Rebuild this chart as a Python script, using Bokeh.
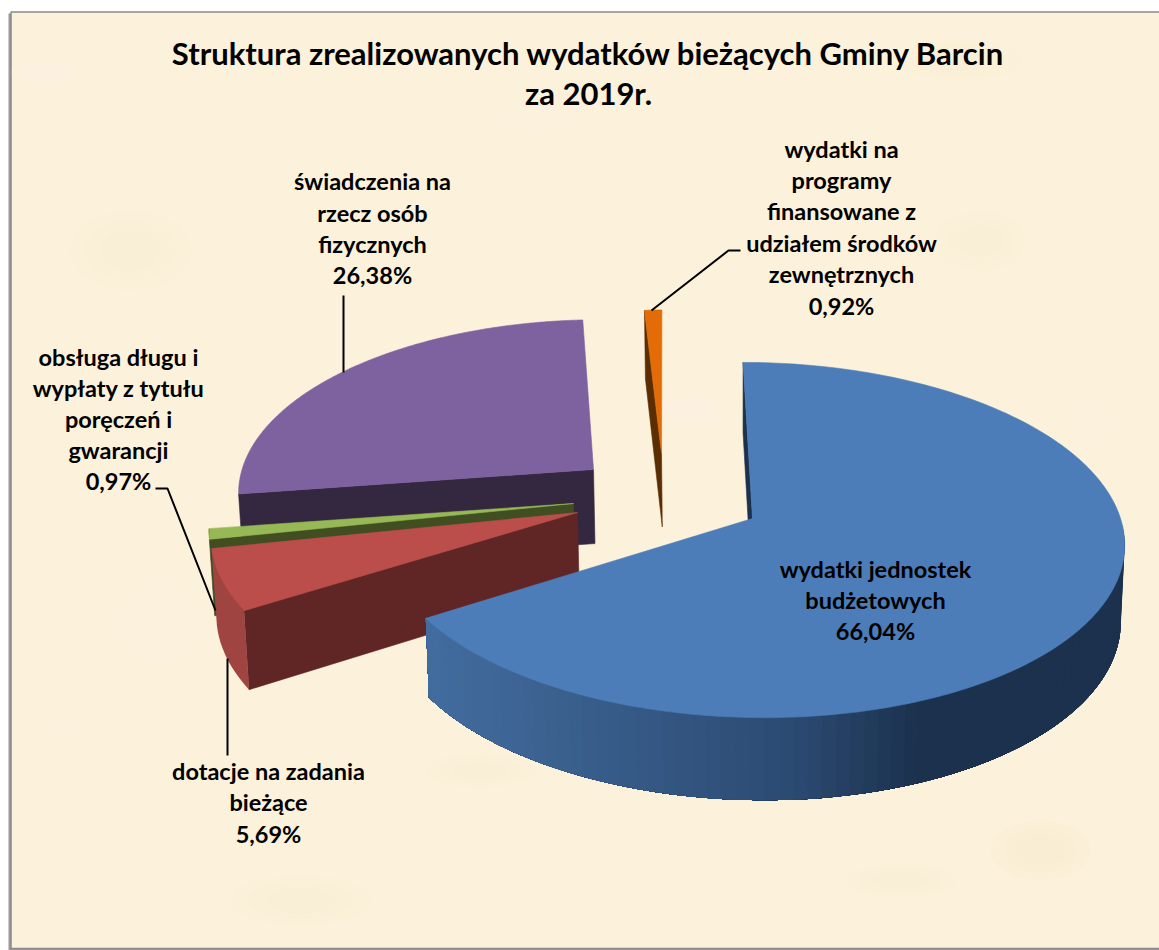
import numpy as np
from bokeh.plotting import figure
from bokeh.models import Range1d
from bokeh.core.properties import value
from bokeh.embed import file_html
from bokeh.resources import INLINE

# ---- data ----
title_lines = ["Struktura zrealizowanych wydatków bieżących Gminy Barcin", "za 2019r."]
categories = ["wydatki jednostek budżetowych", "dotacje na zadania bieżące",
              "obsługa długu i wypłaty z tytułu poręczeń i gwarancji",
              "świadczenia na rzecz osób fizycznych",
              "wydatki na programy finansowane z udziałem środków zewnętrznych"]
shares = [66.04, 5.69, 0.97, 26.38, 0.92]
share_labels = ["66,04%", "5,69%", "0,97%", "26,38%", "0,92%"]

# ---- styling / projection (pixel space of the page) ----
W, H = 1159, 950
FRAME_BG = "#fcf1da"
TOP = ["#4c7db9", "#bb4e4a", "#97b955", "#7e62a0", "#e36c09"]
WALL = ["#1c314d", "#602525", "#404e21", "#33283f", "#5a2d05"]
ARC = [None, "#a04441", "#404e21", "#33283f", "#5a2d05"]
APEX = [(752, 518), (577, 512), (573, 503), (593, 469), (661, 453)]
SCALE = [1.0, 0.985, 0.98, 0.955, 0.91]
R, RT, K, VX = 368.0, 175.0, 0.1212, 665.0

edges = np.cumsum([0] + shares) / sum(shares) * 360.0


def top_xy(i, theta):
    t = np.radians(theta)
    s = 1 / (1 + K * np.cos(t) * SCALE[i])
    ax, ay = APEX[i]
    m = SCALE[i]
    return ax + s * R * m * np.sin(t) + (s - 1) * (ax - VX), ay - s * RT * m * np.cos(t)


def lower(x, y):
    return x + (740 - x) * 0.01, y + 74 + 0.0345 * (y - 468)


def blue_wall_color(x):
    stops_x = [430, 800, 925, 1130]
    c = [(0x43, 0x6d, 0x9f), (0x2c, 0x4b, 0x73), (0x1c, 0x32, 0x4e), (0x1c, 0x31, 0x4d)]
    return "#%02x%02x%02x" % tuple(int(np.interp(x, stops_x, [q[j] for q in c])) for j in range(3))


p = figure(width=W, height=H, output_backend="svg", toolbar_location=None,
           x_range=Range1d(0, W), y_range=Range1d(H, 0),
           min_border=0, outline_line_color=None, background_fill_color="white",
           border_fill_color="white")
p.axis.visible = False
p.grid.visible = False

# frame with shadow and parchment fill
p.patch([8, 1159, 1159, 8], [13, 13, 950, 950], color="#9a9a9a", line_width=0)
p.patch([10.5, 1160, 1160, 10.5], [11.5, 11.5, 948, 948], fill_color=FRAME_BG,
        line_color="#8a8a8a", line_width=1.5)

# soft parchment mottling, each spot drawn as nested faint ellipses
bx = [45, 130, 540, 690, 300, 960, 1040, 60, 480, 900, 1090, 160, 980]
by = [72, 250, 120, 410, 900, 60, 850, 720, 770, 880, 420, 620, 240]
bw = [70, 120, 120, 70, 140, 120, 100, 90, 110, 110, 70, 120, 90]
bh = [26, 80, 40, 34, 50, 40, 60, 30, 34, 34, 70, 120, 60]
bc = ["#fffaf4", "#f9ebcb", "#fff8ea", "#fffaf2", "#f9ecce", "#f9ecce", "#f9ebc9",
      "#fff8ee", "#f9ecce", "#f9ebcb", "#fff8ea", "#fff8f0", "#f9ecce"]
for f in (1.0, 0.75, 0.5):
    p.ellipse(bx, by, width=[v * f for v in bw], height=[v * f for v in bh],
              color=bc, line_width=0, alpha=0.1)


def poly(xs, ys, color):
    p.patch(list(xs), list(ys), fill_color=color, line_color=color, line_width=0.6)


def radial_wall(i, theta):
    ax, ay = APEX[i]
    ex, ey = top_xy(i, theta)
    bex, bey = lower(ex, ey)
    bax, bay = lower(ax, ay)
    poly([ax, ex, bex, bax], [ay, ey, bey, bay], WALL[i])


def arc_wall(i, a0, a1, color=None):
    # one solid band from the end of the arc to each step, so bands overlap without seams
    th = np.append(np.arange(a0, a1, 2.0), a1)
    for k in range(len(th) - 1):
        sub = np.linspace(th[k], th[-1], max(3, len(th) - k))
        x, y = top_xy(i, sub)
        bx_, by_ = lower(x, y)
        c = color or blue_wall_color(float(x[0]))
        p.patch(list(np.r_[x, bx_[::-1]]), list(np.r_[y, by_[::-1]]), fill_color=c, line_width=0, line_alpha=0)
        if color:
            break


def top_face(i):
    th = np.linspace(edges[i], edges[i + 1], 240)
    x, y = top_xy(i, th)
    ax, ay = APEX[i]
    poly(np.r_[ax, x], np.r_[ay, y], TOP[i])


# back to front: purple, orange, green, red, blue
radial_wall(3, edges[3])
top_face(3)

radial_wall(4, edges[4])
top_face(4)

radial_wall(2, edges[2])
arc_wall(2, edges[2], edges[3], ARC[2])
top_face(2)

radial_wall(1, edges[1])
arc_wall(1, edges[1], edges[2], ARC[1])
top_face(1)

radial_wall(0, edges[0])
arc_wall(0, 92, edges[1])
top_face(0)

# leader lines
lead_x = [[651, 728, 740], [343, 343], [155, 167, 215], [227, 227]]
lead_y = [[310, 250, 250], [372, 295], [488, 488, 610], [658, 755]]
p.multi_line(lead_x, lead_y, line_color="black", line_width=2)

# texts
FONT = value("Lato")
label_lines = [
    (["wydatki na", "programy", "finansowane z", "udziałem środków", "zewnętrznych", share_labels[4]],
     841, [148, 179, 210, 242, 273, 305]),
    (["świadczenia na", "rzecz osób", "fizycznych", share_labels[3]], 372, [180, 212, 243, 274]),
    (["obsługa długu i", "wypłaty z tytułu", "poręczeń i", "gwarancji", share_labels[2]],
     118, [356, 387, 418, 449, 480]),
    (["wydatki jednostek", "budżetowych", share_labels[0]], 875, [568, 599, 630]),
    (["dotacje na zadania", "bieżące", share_labels[1]], 268, [770, 801, 833]),
]
for lines, cx, ys in label_lines:
    p.text([cx] * len(lines), ys, text=lines, text_font=FONT, text_font_style="bold",
           text_font_size="23.5px", text_color="black", text_align="center", text_baseline="middle")

p.text([588, 588], [52, 92], text=title_lines, text_font=FONT, text_font_style="bold",
       text_font_size="31px", text_color="black", text_align="center", text_baseline="middle")

open("out.html", "w").write(file_html(p, INLINE))
